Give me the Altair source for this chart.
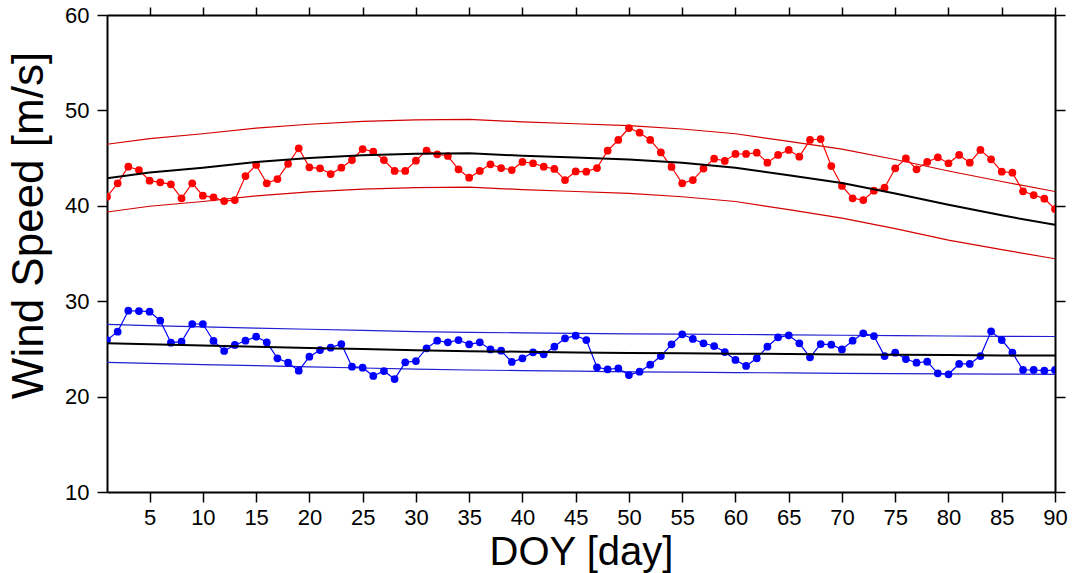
import altair as alt
import pandas as pd

# ---- data ----
days = list(range(1, 91))

red_speed = [40.95, 42.36, 44.10, 43.75, 42.63, 42.46, 42.25, 40.79, 42.36, 41.06,
             40.89, 40.50, 40.60, 43.12, 44.28, 42.36, 42.80, 44.40, 46.03, 44.03,
             43.93, 43.33, 44.00, 44.80, 45.95, 45.67, 44.80, 43.65, 43.65, 44.73,
             45.78, 45.40, 45.22, 43.83, 42.95, 43.65, 44.35, 43.96, 43.75, 44.60,
             44.46, 44.10, 43.86, 42.70, 43.60, 43.58, 43.96, 45.78, 46.90, 48.15,
             47.66, 46.90, 45.60, 44.07, 42.36, 42.70, 43.90, 44.94, 44.70, 45.43,
             45.43, 45.57, 44.52, 45.33, 45.85, 45.15, 46.90, 47.00, 44.17, 42.08,
             40.79, 40.60, 41.58, 41.90, 43.93, 44.97, 43.83, 44.60, 45.08, 44.46,
             45.33, 44.52, 45.85, 44.87, 43.58, 43.47, 41.52, 41.13, 40.75, 39.66]

blue_speed = [25.93, 26.80, 29.00, 28.97, 28.90, 27.96, 25.65, 25.76, 27.61, 27.61,
              25.83, 24.78, 25.41, 25.86, 26.28, 25.69, 24.01, 23.55, 22.72, 24.18,
              24.88, 25.13, 25.51, 23.14, 23.03, 22.16, 22.68, 21.84, 23.59, 23.73,
              25.06, 25.86, 25.69, 25.93, 25.48, 25.69, 24.95, 24.81, 23.63, 24.01,
              24.64, 24.43, 25.23, 26.11, 26.39, 25.93, 23.07, 22.86, 22.97, 22.26,
              22.61, 23.35, 24.25, 25.48, 26.53, 26.04, 25.59, 25.30, 24.67, 23.84,
              23.21, 24.01, 25.23, 26.21, 26.42, 25.59, 24.12, 25.51, 25.44, 24.95,
              25.86, 26.63, 26.35, 24.25, 24.60, 23.94, 23.55, 23.66, 22.44, 22.34,
              23.42, 23.42, 24.25, 26.84, 25.93, 24.60, 22.79, 22.79, 22.72, 22.79]

fit_days = [1, 5, 10, 15, 20, 25, 30, 35, 40, 45, 50, 55, 60, 65, 70, 75, 80, 85, 90]

red_mean = [42.9, 43.5, 44.0, 44.6, 45.0, 45.3, 45.45, 45.5, 45.25, 45.05,
            44.85, 44.5, 44.0, 43.2, 42.4, 41.3, 40.1, 39.0, 38.0]
red_upper = [46.45, 47.05, 47.55, 48.15, 48.55, 48.85, 49.0, 49.05, 48.8, 48.6,
             48.4, 48.05, 47.55, 46.75, 45.95, 44.85, 43.65, 42.55, 41.5]
red_lower = [39.35, 39.95, 40.45, 41.05, 41.45, 41.75, 41.9, 41.95, 41.7, 41.5,
             41.3, 40.95, 40.45, 39.6, 38.7, 37.6, 36.4, 35.4, 34.45]

blue_mean = [25.6, 25.48, 25.35, 25.22, 25.1, 24.98, 24.85, 24.76, 24.7, 24.63,
             24.58, 24.54, 24.5, 24.46, 24.42, 24.38, 24.35, 24.32, 24.3]
blue_upper = [27.58, 27.45, 27.3, 27.18, 27.06, 26.95, 26.82, 26.74, 26.68, 26.62,
              26.58, 26.54, 26.51, 26.47, 26.43, 26.39, 26.35, 26.32, 26.3]
blue_lower = [23.59, 23.48, 23.36, 23.24, 23.12, 23.0, 22.88, 22.79, 22.72, 22.66,
              22.6, 22.56, 22.52, 22.48, 22.44, 22.41, 22.38, 22.36, 22.34]

# ---- tables ----
obs = pd.DataFrame({
    "day": days * 2,
    "value": red_speed + blue_speed,
    "series": ["red"] * len(days) + ["blue"] * len(days),
})

fit_rows = []
for name, vals in [("red_mean", red_mean), ("red_upper", red_upper), ("red_lower", red_lower),
                   ("blue_mean", blue_mean), ("blue_upper", blue_upper), ("blue_lower", blue_lower)]:
    for d, v in zip(fit_days, vals):
        fit_rows.append({"day": d, "value": v, "curve": name})
fits = pd.DataFrame(fit_rows)

FONT = "Liberation Sans"
xscale = alt.Scale(domain=[1, 90], nice=False, zero=False)
yscale = alt.Scale(domain=[10, 60], nice=False, zero=False)

x_axis = alt.Axis(values=list(range(5, 95, 5)), tickSize=10, labelFontSize=22,
                  labelPadding=5, labelFlush=False, title="DOY [day]", titleFontSize=40,
                  titleFontWeight="normal", titleBaseline="alphabetic",
                  titleY=72, titleFont=FONT, labelFont=FONT, orient="bottom")
y_axis = alt.Axis(values=[10, 20, 30, 40, 50, 60], tickSize=10, labelFontSize=22,
                  labelPadding=8, labelFlush=False, title="Wind Speed [m/s]", titleFontSize=44,
                  titleFontWeight="normal", titleAngle=-90, titleBaseline="alphabetic",
                  titleAlign="center", titleX=-65, titleY=210,
                  titleFont=FONT, labelFont=FONT, orient="left")

X = alt.X("day:Q", scale=xscale, axis=x_axis)
Y = alt.Y("value:Q", scale=yscale, axis=y_axis)


def fit_line(name, color, width):
    return alt.Chart(fits).transform_filter(alt.datum.curve == name).mark_line(
        color=color, strokeWidth=width, clip=True
    ).encode(x=X, y=Y, order="day:Q")


def obs_line(name, color):
    base = alt.Chart(obs).transform_filter(alt.datum.series == name)
    ln = base.mark_line(color=color, strokeWidth=1.2, clip=True).encode(x=X, y=Y, order="day:Q")
    pt = base.mark_circle(color=color, size=60, opacity=1, clip=True).encode(x=X, y=Y)
    return ln + pt


main = alt.layer(
    fit_line("red_upper", "#d40000", 1.2),
    fit_line("red_lower", "#d40000", 1.2),
    fit_line("blue_upper", "#2020d0", 1.2),
    fit_line("blue_lower", "#2020d0", 1.2),
    obs_line("red", "#ff0000"),
    obs_line("blue", "#0000ff"),
    fit_line("red_mean", "#000000", 2),
    fit_line("blue_mean", "#000000", 2),
)

frame = alt.Chart(fits).mark_point(opacity=0).encode(
    x=alt.X("day:Q", scale=xscale,
            axis=alt.Axis(orient="top", values=list(range(5, 95, 5)), labels=False,
                          tickSize=8, title=None)),
    y=alt.Y("value:Q", scale=yscale,
            axis=alt.Axis(orient="right", values=[10, 20, 30, 40, 50, 60], labels=False,
                          tickSize=10, title=None)),
)

chart = alt.layer(main, frame).resolve_axis(x="independent", y="independent").properties(
    width=948, height=477,
    autosize=alt.AutoSizeParams(type="none"),
    padding={"left": 107, "top": 15, "right": 20, "bottom": 81},
    background="white",
).configure_axis(
    grid=False, domainColor="black", domainWidth=2, tickColor="black", tickWidth=1.5,
    labelColor="black", titleColor="black",
).configure_view(stroke=None)

chart.save("out.html", embed_options={"renderer": "svg", "actions": False})
